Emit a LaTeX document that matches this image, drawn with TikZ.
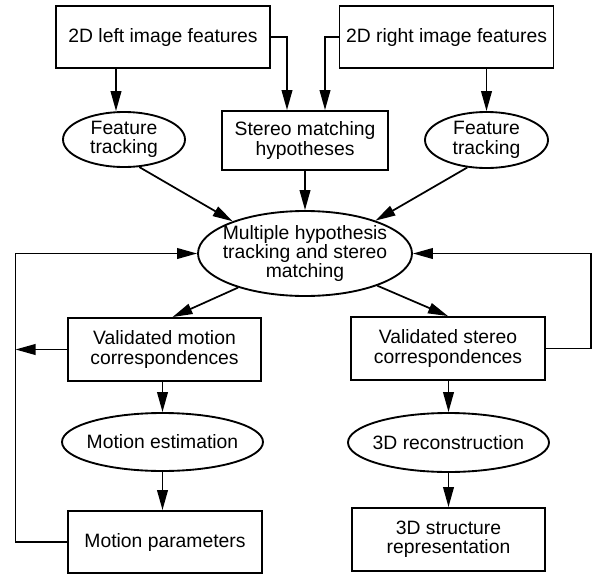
\documentclass[tikz,border=0pt]{standalone}
\usepackage{fontspec}
\setmainfont{Liberation Sans}
\usetikzlibrary{arrows.meta,shapes.geometric}

\tikzset{
  box/.style={draw, line width=1.4pt, align=center, inner sep=0pt},
  oval/.style={draw, ellipse, line width=1.4pt, inner sep=0pt},
  arr/.style={line width=1.3pt, -{Triangle[length=15pt,width=8pt]}},
}

\begin{document}
\begin{tikzpicture}[x=0.75pt,y=0.75pt,yscale=-1,xscale=1,
  font=\fontsize{14.5}{14.5}\selectfont]
\useasboundingbox (0,0) rectangle (593,575);

% Image feature sources
\node[box, minimum width=160.5pt, minimum height=46.5pt] (lft) at (163,37) {2D left image features};
\node[box, minimum width=160.5pt, minimum height=46.5pt] (rgt) at (446.5,37) {2D right image features};
\node[box, minimum width=124.5pt, minimum height=44.25pt] (stm) at (305,140.5) {Stereo matching\\hypotheses};
\node[oval, minimum width=91.5pt, minimum height=41.25pt,
  label={[align=center]center:Feature\\tracking}] (ltrk) at (124,139.5) {};
\node[oval, minimum width=92.25pt, minimum height=42pt,
  label={[align=center]center:Feature\\tracking}] (rtrk) at (486.5,140) {};

% Central matching
\node[oval, minimum width=160.5pt, minimum height=63.75pt,
  label={[align=center]center:Multiple hypothesis\\tracking and stereo\\matching}] (hyp) at (305,253.5) {};

% Motion branch
\node[box, minimum width=144.75pt, minimum height=47.25pt] (vmot) at (164.5,349.5) {Validated motion\\correspondences};
\node[oval, minimum width=150.75pt, minimum height=43.5pt,
  label={center:Motion estimation}] (mest) at (162.5,442) {};
\node[box, minimum width=145.5pt, minimum height=46.5pt] (mpar) at (165,542) {Motion parameters};

% Stereo branch
\node[box, minimum width=145.5pt, minimum height=47.25pt] (vst) at (448,348.5) {Validated stereo\\correspondences};
\node[oval, minimum width=150.75pt, minimum height=44.25pt,
  label={center:3D reconstruction}] (rec) at (448.5,442.5) {};
\node[box, minimum width=144.75pt, minimum height=47.25pt] (str) at (448.5,539.5) {3D structure\\representation};

% Feedback rails
\coordinate (lrail) at (15.5,0);
\coordinate (rrail) at (591,0);
\coordinate (ltrktop) at ([xshift=-6pt]ltrk.north);

% Connectors
\draw[arr] (ltrktop |- lft.south) -- (ltrktop);
\draw[arr] (rtrk.north |- rgt.south) -- (rtrk.north);
\draw[arr] (lft.east) -| ([xshift=-13.5pt]stm.north);
\draw[arr] (rgt.west) -| ([xshift=15pt]stm.north);
\draw[arr] (stm.south) -- (hyp.north);
\draw[arr] (ltrk.-61) -- (hyp.156);
\draw[arr] (rtrk.235) -- (hyp.25);
\draw[arr] (hyp.207) -- ([xshift=6pt]vmot.north);
\draw[arr] (hyp.-24) -- (vst.north);
\draw[arr] (mest.north |- vmot.south) -- (mest.north);
\draw[arr] (mest.south) -- (mest.south |- mpar.north);
\draw[arr] (rec.north |- vst.south) -- (rec.north);
\draw[arr] (rec.south) -- (rec.south |- str.north);
\draw[arr] (vmot.west) -- (lrail |- vmot.west);
\draw[arr] (mpar.west) -| (lrail |- hyp.west) -- (hyp.west);
\draw[arr] (vst.east) -| (rrail |- hyp.east) -- (hyp.east);

\end{tikzpicture}
\end{document}
